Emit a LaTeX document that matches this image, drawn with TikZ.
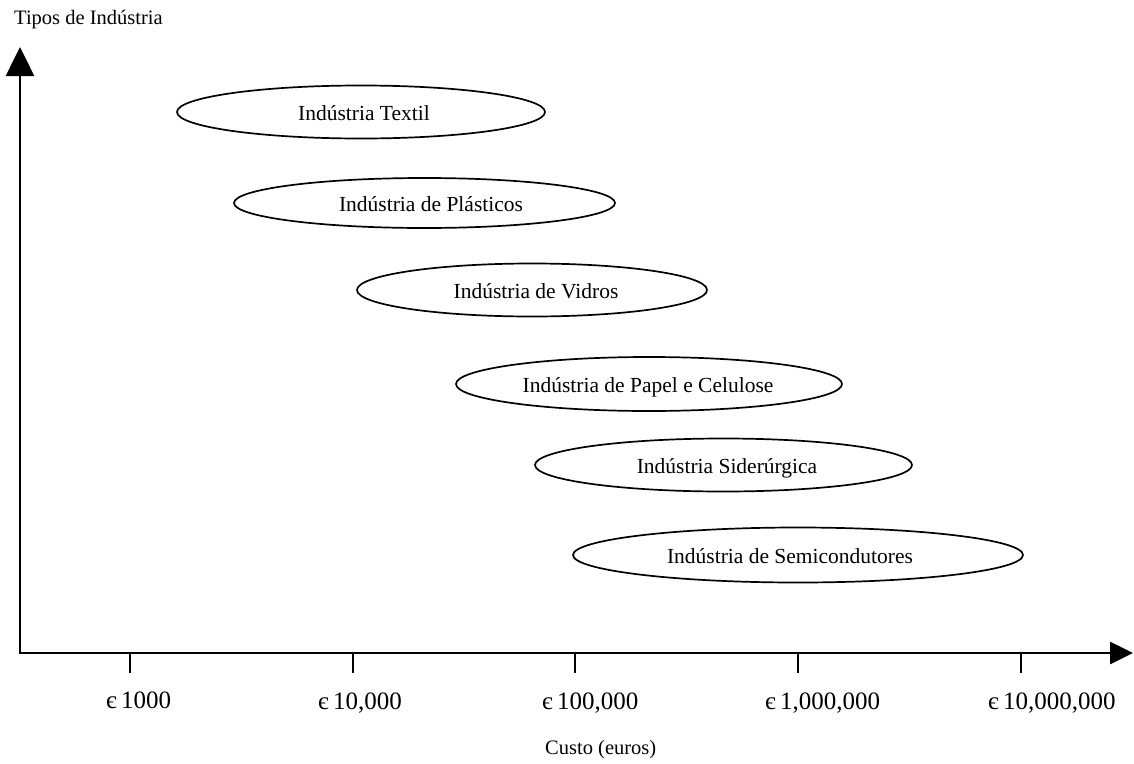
\documentclass[tikz,border=0pt]{standalone}
\usepackage{fontspec}
\setmainfont{Liberation Serif}
\usetikzlibrary{arrows.meta,shapes.geometric}
\begin{document}
\begin{tikzpicture}[x=1pt,y=-1pt,
  axis/.style={line width=2.6pt},
  tickmark/.style={line width=2.2pt},
  field/.style={draw,ellipse,line width=1.7pt,inner sep=0pt},
  fieldtext/.style={anchor=base,font=\fontsize{21.5}{24}\selectfont,inner sep=0pt},
  ticklabel/.style={anchor=base west,font=\fontsize{25}{28}\selectfont,inner sep=0pt},
  axislabel/.style={anchor=base west,font=\fontsize{20.5}{24}\selectfont,inner sep=0pt}]
\useasboundingbox (0,0) rectangle (1134,763);

% axes
\coordinate (O) at (20,653);
\coordinate (ytop) at (20,47);
\coordinate (xend) at (1133,653);
\draw[axis,{Triangle[length=29pt,width=28pt]}-{Triangle[length=23pt,width=22pt]}]
  (ytop) -- (O) -- (xend);

\node[axislabel] (ylab) at (14,24) {Tipos de Indústria};
\node[axislabel] (xlab) at (545,754) {Custo (euros)};

% ticks and their labels
\foreach \n/\x in {a/130, b/353, c/575, d/798, e/1021}{
  \coordinate (t\n) at (\x,653);
  \coordinate (b\n) at (\x,673);
  \draw[tickmark] (t\n) -- (b\n);
}
\node[ticklabel] (la) at (106,708) {є\,1000};
\node[ticklabel] (lb) at (318,709) {є\,10,000};
\node[ticklabel] (lc) at (542,709) {є\,100,000};
\node[ticklabel] (ld) at (765,709) {є\,1,000,000};
\node[ticklabel] (le) at (988,709) {є\,10,000,000};

% industry ranges
\node[field,minimum width=368pt,minimum height=53pt] (e1) at (361,112) {};
\node[field,minimum width=381pt,minimum height=50pt] (e2) at (424.5,203) {};
\node[field,minimum width=350pt,minimum height=53pt] (e3) at (532,290) {};
\node[field,minimum width=386pt,minimum height=54pt] (e4) at (649,384) {};
\node[field,minimum width=377pt,minimum height=53pt] (e5) at (723.5,465) {};
\node[field,minimum width=450pt,minimum height=55pt] (e6) at (798,555) {};

\node[fieldtext] (n1) at (364,120) {Indústria Textil};
\node[fieldtext] (n2) at (431,211.5) {Indústria de Plásticos};
\node[fieldtext] (n3) at (536,298) {Indústria de Vidros};
\node[fieldtext] (n4) at (648,392) {Indústria de Papel e Celulose};
\node[fieldtext] (n5) at (727,473) {Indústria Siderúrgica};
\node[fieldtext] (n6) at (790,563) {Indústria de Semicondutores};
\end{tikzpicture}
\end{document}
